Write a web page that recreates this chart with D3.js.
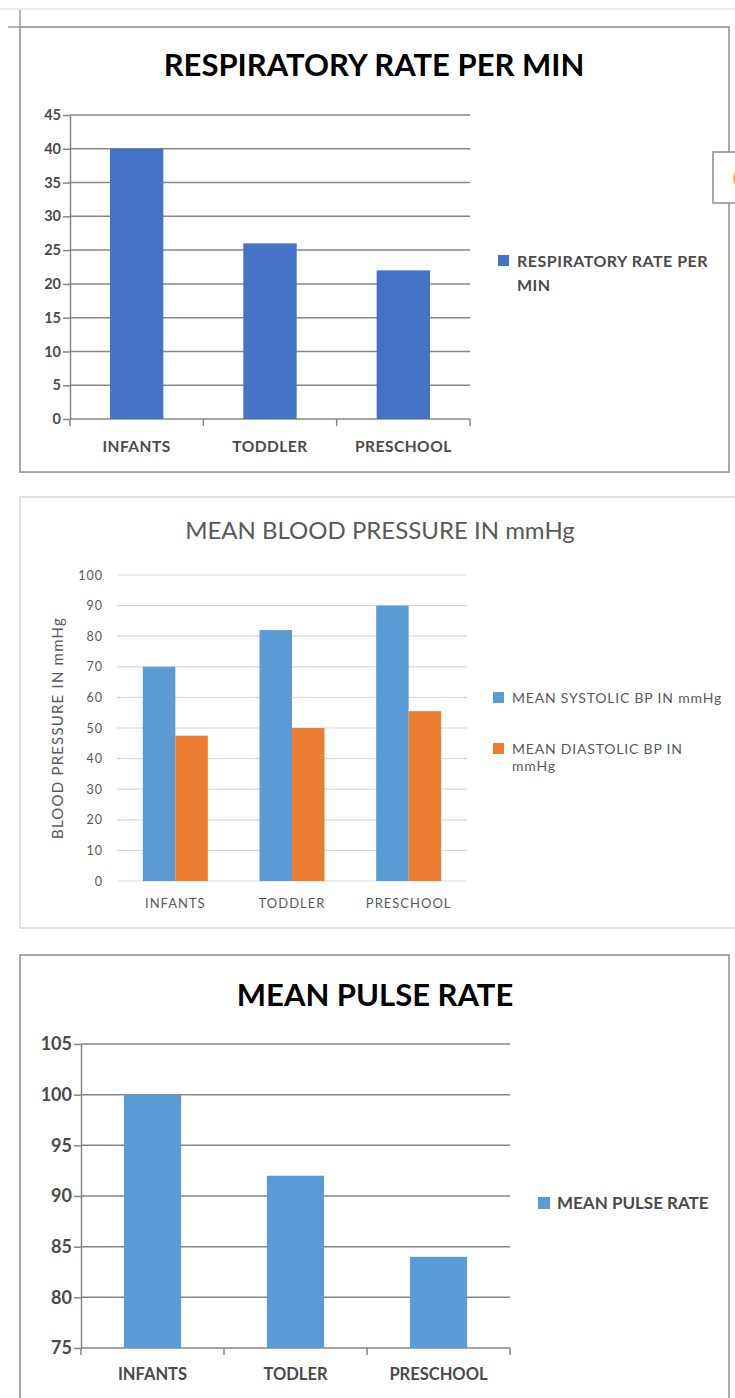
<!DOCTYPE html>
<html>
<head>
<meta charset="utf-8">
<script src="https://cdn.jsdelivr.net/npm/d3@7"></script>
<style>
  body { margin: 0; background: #fff; }
  svg { display: block; font-family: Lato, "Open Sans", sans-serif; }
</style>
</head>
<body>
<svg id="page" width="735" height="1398"></svg>
<script>
// chart 1 - respiratory rate
const respCategories = ["INFANTS", "TODDLER", "PRESCHOOL"];
const respRate = [40, 26, 22];
const respTicks = [0, 5, 10, 15, 20, 25, 30, 35, 40, 45];

// chart 2 - blood pressure
const bpCategories = ["INFANTS", "TODDLER", "PRESCHOOL"];
const bpSeries = ["MEAN SYSTOLIC BP IN mmHg", "MEAN DIASTOLIC BP IN mmHg"];
const systolic = [70, 82, 90];
const diastolic = [47.5, 50, 55.5];
const bpTicks = [0, 10, 20, 30, 40, 50, 60, 70, 80, 90, 100];

// chart 3 - pulse rate
const pulseCategories = ["INFANTS", "TODLER", "PRESCHOOL"];
const pulseRate = [100, 92, 84];
const pulseTicks = [75, 80, 85, 90, 95, 100, 105];

const svg = d3.select("#page");

// spreadsheet bits above the first chart
svg.append("line").attr("x1", 0).attr("x2", 735).attr("y1", 9).attr("y2", 9)
    .attr("stroke", "#ececec").attr("stroke-width", 2);
svg.append("line").attr("x1", 20).attr("x2", 20).attr("y1", 10).attr("y2", 27)
    .attr("stroke", "#9a9a9a").attr("stroke-width", 1.5);
svg.append("line").attr("x1", 8).attr("x2", 20).attr("y1", 27).attr("y2", 27)
    .attr("stroke", "#9a9a9a").attr("stroke-width", 1.5);

function drawBox(x, y, w, h, color) {
    svg.append("rect")
        .attr("x", x).attr("y", y).attr("width", w).attr("height", h)
        .attr("fill", "#fff")
        .attr("stroke", color)
        .attr("stroke-width", 1.5);
}

// boundaries between the bands, for the little category ticks
function bandEdges(x) {
    const edges = x.domain().map(c => x(c) + x.bandwidth() / 2 - x.step() / 2);
    edges.push(edges[edges.length - 1] + x.step());
    return edges;
}

/* ---------------- chart 1 ---------------- */
drawBox(20, 27, 709, 445, "#8c8c8c");

svg.append("text")
    .attr("x", 374).attr("y", 76)
    .attr("text-anchor", "middle")
    .attr("font-size", 31).attr("font-weight", 700)
    .attr("fill", "#000")
    .text("RESPIRATORY RATE PER MIN");

const x1 = d3.scaleBand().domain(respCategories).range([70, 470])
    .paddingInner(0.6).paddingOuter(0.3);
const y1 = d3.scaleLinear().domain([0, 45]).range([419, 115]);
const g1 = svg.append("g");

g1.selectAll(".grid1")
    .data(respTicks)
    .enter().append("line")
    .attr("x1", 70).attr("x2", 470)
    .attr("y1", d => y1(d)).attr("y2", d => y1(d))
    .attr("stroke", "#868686").attr("stroke-width", 1.5);

g1.selectAll(".bar1")
    .data(respRate)
    .enter().append("rect")
    .attr("x", (d, i) => x1(respCategories[i]))
    .attr("y", d => y1(d))
    .attr("width", x1.bandwidth())
    .attr("height", d => y1(0) - y1(d))
    .attr("fill", "#4472C4");

const yAxis1 = g1.append("g")
    .attr("transform", "translate(70,0)")
    .call(d3.axisLeft(y1).tickValues(respTicks).tickSize(7).tickSizeOuter(0).tickPadding(2));
yAxis1.select(".domain").attr("stroke", "#868686").attr("stroke-width", 1.5);
yAxis1.selectAll(".tick line").attr("stroke", "#868686").attr("stroke-width", 1.5);
yAxis1.selectAll("text").attr("font-size", 14.5).attr("font-weight", 700)
    .attr("fill", "#4a4a4a").attr("font-family", "Lato");

g1.selectAll(".xtick1")
    .data(bandEdges(x1))
    .enter().append("line")
    .attr("x1", d => d).attr("x2", d => d)
    .attr("y1", y1(0)).attr("y2", y1(0) + 7)
    .attr("stroke", "#868686").attr("stroke-width", 1.5);

g1.selectAll(".xlab1")
    .data(respCategories)
    .enter().append("text")
    .attr("x", d => x1(d) + x1.bandwidth() / 2)
    .attr("y", 452)
    .attr("text-anchor", "middle")
    .attr("font-size", 15.5).attr("font-weight", 700)
    .attr("letter-spacing", 0.5)
    .attr("fill", "#4a4a4a")
    .text(d => d);

// legend
g1.append("rect").attr("x", 498).attr("y", 255).attr("width", 11).attr("height", 11)
    .attr("fill", "#4472C4");
g1.append("text").attr("x", 517).attr("y", 267)
    .attr("font-size", 16).attr("font-weight", 700).attr("fill", "#4a4a4a")
    .attr("letter-spacing", 0.5)
    .selectAll("tspan")
    .data(["RESPIRATORY RATE PER", "MIN"])
    .enter().append("tspan")
    .attr("x", 517)
    .attr("dy", (d, i) => i === 0 ? 0 : 24)
    .text(d => d);

// the little chart button poking in on the right
svg.append("rect").attr("x", 713).attr("y", 152).attr("width", 40).attr("height", 51)
    .attr("fill", "#fff").attr("stroke", "#8c8c8c").attr("stroke-width", 1.5);
svg.append("circle").attr("cx", 745).attr("cy", 178).attr("r", 10)
    .attr("fill", "none").attr("stroke", "#f0b060").attr("stroke-width", 4);

/* ---------------- chart 2 ---------------- */
drawBox(20, 497, 730, 431, "#d9d9d9");

svg.append("text")
    .attr("x", 380).attr("y", 539)
    .attr("text-anchor", "middle")
    .attr("font-size", 24)
    .attr("fill", "#595959")
    .text("MEAN BLOOD PRESSURE IN mmHg");

const x2 = d3.scaleBand().domain(bpCategories).range([117, 467])
    .paddingInner(0.443).paddingOuter(0.2215);
const xs2 = d3.scaleBand().domain(bpSeries).range([0, x2.bandwidth()]);
const y2 = d3.scaleLinear().domain([0, 100]).range([881, 575]);
const color2 = d3.scaleOrdinal().domain(bpSeries).range(["#5B9BD5", "#ED7D31"]);
const g2 = svg.append("g");

g2.selectAll(".grid2")
    .data(bpTicks)
    .enter().append("line")
    .attr("x1", 117).attr("x2", 467)
    .attr("y1", d => y2(d)).attr("y2", d => y2(d))
    .attr("stroke", "#d9d9d9").attr("stroke-width", 1.2);

g2.selectAll(".ylab2")
    .data(bpTicks)
    .enter().append("text")
    .attr("x", 103)
    .attr("y", d => y2(d) + 4.5)
    .attr("text-anchor", "end")
    .attr("font-size", 12.5).attr("letter-spacing", 1)
    .attr("fill", "#595959")
    .text(d => d);

const bpRows = bpCategories.map((c, i) => ({ cat: c, values: [systolic[i], diastolic[i]] }));

g2.selectAll(".grp2")
    .data(bpRows)
    .enter().append("g")
    .attr("transform", d => `translate(${x2(d.cat)},0)`)
    .selectAll("rect")
    .data(d => d.values.map((v, j) => ({ key: bpSeries[j], value: v })))
    .enter().append("rect")
    .attr("x", d => xs2(d.key))
    .attr("y", d => y2(d.value))
    .attr("width", xs2.bandwidth())
    .attr("height", d => y2(0) - y2(d.value))
    .attr("fill", d => color2(d.key));

g2.selectAll(".xlab2")
    .data(bpCategories)
    .enter().append("text")
    .attr("x", d => x2(d) + x2.bandwidth() / 2)
    .attr("y", 908)
    .attr("text-anchor", "middle")
    .attr("font-size", 13).attr("letter-spacing", 1)
    .attr("fill", "#595959")
    .text(d => d);

g2.append("text")
    .attr("transform", "translate(63,728) rotate(-90)")
    .attr("text-anchor", "middle")
    .attr("font-size", 15).attr("letter-spacing", 1.2)
    .attr("fill", "#595959")
    .text("BLOOD PRESSURE IN mmHg");

// legend
const legendLines2 = [["MEAN SYSTOLIC BP IN mmHg"], ["MEAN DIASTOLIC BP IN", "mmHg"]];
const leg2 = g2.selectAll(".leg2")
    .data(bpSeries)
    .enter().append("g")
    .attr("transform", (d, i) => `translate(493,${692 + i * 51})`);
leg2.append("rect").attr("width", 11).attr("height", 11).attr("fill", d => color2(d));
leg2.append("text")
    .attr("x", 19).attr("y", 11)
    .attr("font-size", 14).attr("letter-spacing", 0.8)
    .attr("fill", "#595959")
    .selectAll("tspan")
    .data((d, i) => legendLines2[i])
    .enter().append("tspan")
    .attr("x", 19)
    .attr("dy", (d, i) => i === 0 ? 0 : 17)
    .text(d => d);

/* ---------------- chart 3 ---------------- */
drawBox(20, 955, 709, 460, "#8c8c8c");

svg.append("text")
    .attr("x", 375).attr("y", 1006)
    .attr("text-anchor", "middle")
    .attr("font-size", 31).attr("font-weight", 700)
    .attr("fill", "#000")
    .text("MEAN PULSE RATE");

const x3 = d3.scaleBand().domain(pulseCategories).range([81, 510])
    .paddingInner(0.6).paddingOuter(0.3);
const y3 = d3.scaleLinear().domain([75, 105]).range([1348, 1044]);
const g3 = svg.append("g");

g3.selectAll(".grid3")
    .data(pulseTicks)
    .enter().append("line")
    .attr("x1", 81).attr("x2", 510)
    .attr("y1", d => y3(d)).attr("y2", d => y3(d))
    .attr("stroke", "#868686").attr("stroke-width", 1.5);

g3.selectAll(".bar3")
    .data(pulseRate)
    .enter().append("rect")
    .attr("x", (d, i) => x3(pulseCategories[i]))
    .attr("y", d => y3(d))
    .attr("width", x3.bandwidth())
    .attr("height", d => y3(75) - y3(d))
    .attr("fill", "#5B9BD5");

const yAxis3 = g3.append("g")
    .attr("transform", "translate(81,0)")
    .call(d3.axisLeft(y3).tickValues(pulseTicks).tickSize(7).tickSizeOuter(0).tickPadding(2));
yAxis3.select(".domain").attr("stroke", "#868686").attr("stroke-width", 1.5);
yAxis3.selectAll(".tick line").attr("stroke", "#868686").attr("stroke-width", 1.5);
yAxis3.selectAll("text").attr("font-size", 18).attr("font-weight", 700)
    .attr("fill", "#4a4a4a").attr("font-family", "Lato");

g3.selectAll(".xtick3")
    .data(bandEdges(x3))
    .enter().append("line")
    .attr("x1", d => d).attr("x2", d => d)
    .attr("y1", y3(75)).attr("y2", y3(75) + 7)
    .attr("stroke", "#868686").attr("stroke-width", 1.5);

g3.selectAll(".xlab3")
    .data(pulseCategories)
    .enter().append("text")
    .attr("x", d => x3(d) + x3.bandwidth() / 2)
    .attr("y", 1380)
    .attr("text-anchor", "middle")
    .attr("font-size", 16.5).attr("font-weight", 700)
    .attr("fill", "#4a4a4a")
    .text(d => d);

g3.append("rect").attr("x", 538).attr("y", 1197).attr("width", 12).attr("height", 12)
    .attr("fill", "#5B9BD5");
g3.append("text").attr("x", 557).attr("y", 1209)
    .attr("font-size", 17).attr("font-weight", 700).attr("fill", "#4a4a4a")
    .text("MEAN PULSE RATE");
</script>
</body>
</html>
